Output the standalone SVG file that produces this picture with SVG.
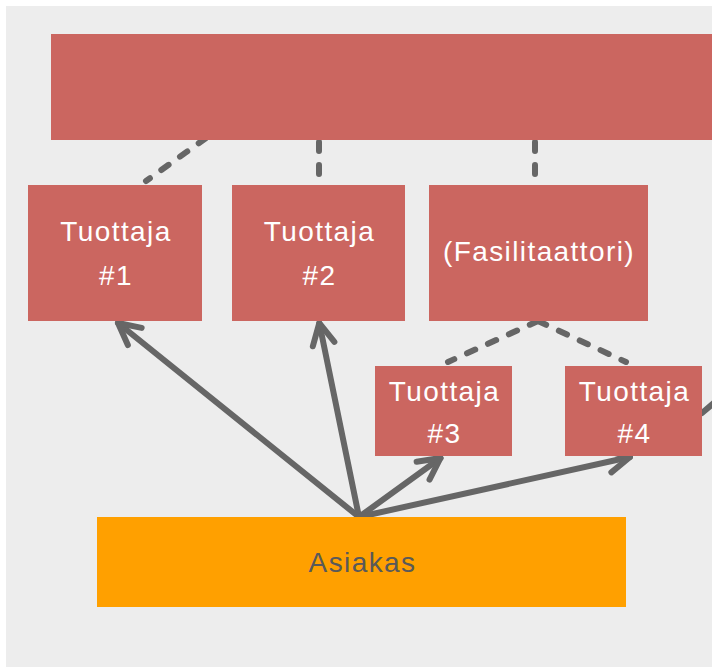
<svg xmlns="http://www.w3.org/2000/svg" width="712" height="667" viewBox="0 0 712 667">
<style>
.red{fill:#CB6660}
.lbl{font-family:"Liberation Sans",Arial,sans-serif;font-size:28px;fill:#FFFFFF;text-anchor:middle;letter-spacing:1.4px}
.dash{stroke:#666666;stroke-width:6;stroke-dasharray:9 14;stroke-linecap:round;fill:none}
.arr{stroke:#666666;stroke-width:6;stroke-linecap:round;fill:none;marker-end:url(#ah)}
</style>
<defs>
<marker id="ah" markerUnits="userSpaceOnUse" viewBox="-30 -20 40 40" refX="0" refY="0" markerWidth="40" markerHeight="40" orient="auto" overflow="visible">
<path d="M-21.5,-11 L0,0 L-21.5,11" fill="none" stroke="#666666" stroke-width="6" stroke-linecap="round" stroke-linejoin="round"/>
</marker>
</defs>
<rect x="6" y="6" width="706" height="661" fill="#EDEDED"/>
<g id="connectors">
<line class="dash" x1="206" y1="138" x2="146" y2="181"/>
<line class="dash" x1="319" y1="142" x2="319" y2="182"/>
<line class="dash" x1="535" y1="142" x2="535" y2="182"/>
<line class="dash" x1="538" y1="321" x2="448" y2="362"/>
<line class="dash" x1="538" y1="321" x2="626" y2="362"/>
<line x1="702" y1="413" x2="716" y2="401" stroke="#666666" stroke-width="6" stroke-linecap="round"/>
<line class="arr" x1="359" y1="517" x2="118" y2="323"/>
<line class="arr" x1="359" y1="517" x2="319.3" y2="323"/>
<line class="arr" x1="359" y1="517" x2="440.5" y2="458"/>
<line class="arr" x1="359" y1="517" x2="630" y2="457"/>
</g>
<g id="top"><rect class="red" x="51" y="34" width="661" height="106"/></g>
<g id="tuottaja1"><rect class="red" x="28" y="185" width="174" height="136"/>
<text class="lbl" x="116" y="241">Tuottaja</text><text class="lbl" x="116" y="285">#1</text></g>
<g id="tuottaja2"><rect class="red" x="232" y="185" width="173" height="136"/>
<text class="lbl" x="319.5" y="241">Tuottaja</text><text class="lbl" x="319.5" y="285">#2</text></g>
<g id="fasilitaattori"><rect class="red" x="429" y="185" width="219" height="136"/>
<text class="lbl" x="539" y="261">(Fasilitaattori)</text></g>
<g id="tuottaja3"><rect class="red" x="375" y="366" width="137" height="90"/>
<text class="lbl" x="444.5" y="401">Tuottaja</text><text class="lbl" x="444.5" y="443">#3</text></g>
<g id="tuottaja4"><rect class="red" x="565" y="366" width="137" height="90"/>
<text class="lbl" x="634.5" y="401">Tuottaja</text><text class="lbl" x="634.5" y="443">#4</text></g>
<g id="asiakas"><rect x="97" y="517" width="529" height="90" fill="#FFA000"/>
<text class="lbl" x="362.5" y="572" style="fill:#595959">Asiakas</text></g>
</svg>
